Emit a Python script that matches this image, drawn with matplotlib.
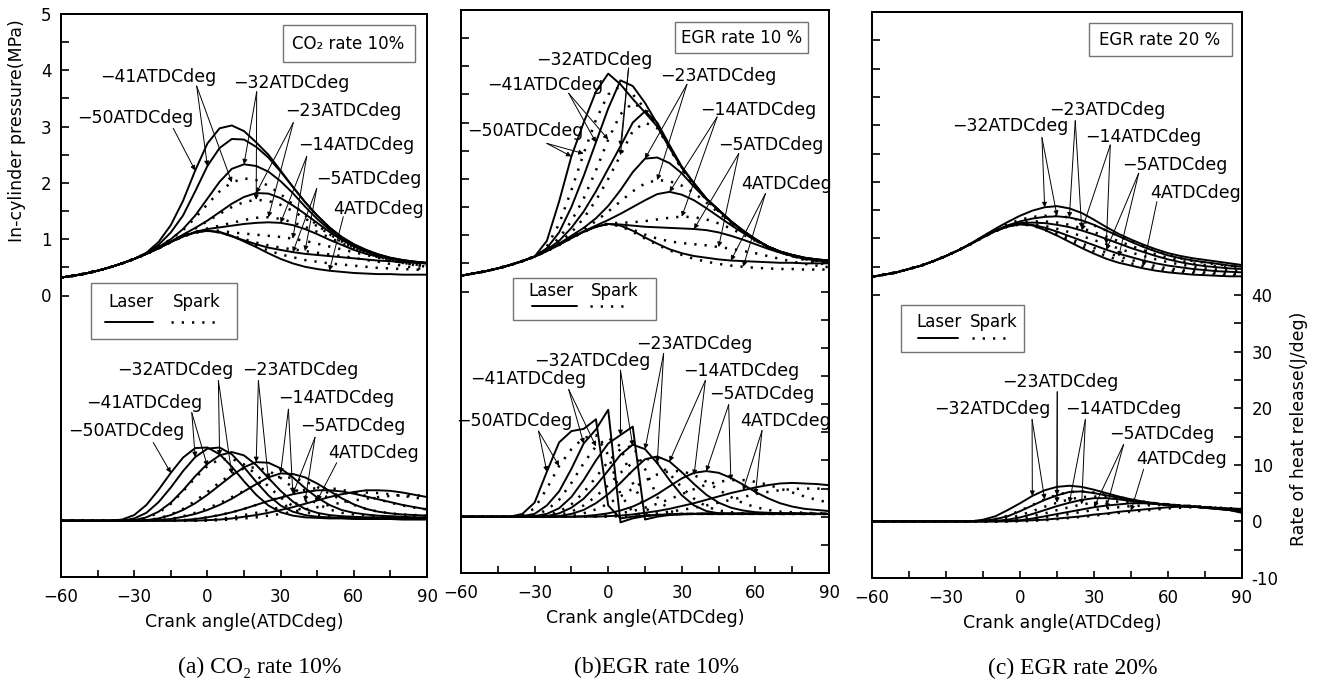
import matplotlib
matplotlib.use('Agg')
import matplotlib.pyplot as plt
from matplotlib.patches import Rectangle
from matplotlib.lines import Line2D

plt.rcParams['font.family'] = ['DejaVu Sans']
plt.rcParams['axes.linewidth'] = 1.4

crank = list(range(-60, 91, 5))

# ---------------- (a) CO2 rate 10% ----------------
a_laser_t = [-50, -41, -32, -23, -14, -5, 4]
a_spark_t = [-41, -32, -23, -14, -5, 4]
a_compression = [0.32, 0.35, 0.39, 0.44, 0.50, 0.57, 0.65]   # -60..-30 deg
# pressure from -25 deg onward
a_press_laser = [
    [0.76, 0.95, 1.25, 1.68, 2.22, 2.70, 2.97, 3.02, 2.92, 2.72, 2.50, 2.22, 1.93, 1.66, 1.42, 1.21, 1.04, 0.91, 0.81, 0.73, 0.67, 0.63, 0.60, 0.58],
    [0.75, 0.90, 1.12, 1.42, 1.85, 2.30, 2.62, 2.78, 2.77, 2.64, 2.45, 2.20, 1.93, 1.66, 1.42, 1.21, 1.04, 0.91, 0.81, 0.73, 0.67, 0.63, 0.60, 0.58],
    [0.74, 0.86, 1.00, 1.18, 1.42, 1.72, 2.02, 2.25, 2.33, 2.30, 2.20, 2.03, 1.82, 1.58, 1.36, 1.17, 1.01, 0.89, 0.80, 0.72, 0.66, 0.62, 0.59, 0.57],
    [0.74, 0.84, 0.96, 1.08, 1.20, 1.33, 1.48, 1.63, 1.75, 1.82, 1.81, 1.73, 1.60, 1.45, 1.29, 1.13, 0.99, 0.87, 0.78, 0.71, 0.66, 0.62, 0.59, 0.57],
    [0.74, 0.84, 0.95, 1.05, 1.13, 1.18, 1.21, 1.24, 1.27, 1.29, 1.30, 1.29, 1.25, 1.18, 1.09, 0.99, 0.90, 0.81, 0.74, 0.69, 0.65, 0.62, 0.60, 0.58],
    [0.74, 0.84, 0.95, 1.05, 1.12, 1.15, 1.12, 1.05, 0.98, 0.91, 0.85, 0.81, 0.77, 0.74, 0.72, 0.70, 0.68, 0.66, 0.64, 0.62, 0.61, 0.59, 0.58, 0.57],
    [0.74, 0.84, 0.95, 1.05, 1.12, 1.15, 1.13, 1.06, 0.96, 0.86, 0.75, 0.65, 0.57, 0.51, 0.47, 0.44, 0.42, 0.40, 0.39, 0.38, 0.38, 0.37, 0.37, 0.37],
]
a_press_spark = [
    [0.74, 0.86, 1.00, 1.16, 1.38, 1.62, 1.85, 2.01, 2.08, 2.05, 1.95, 1.80, 1.62, 1.43, 1.25, 1.09, 0.95, 0.84, 0.75, 0.68, 0.62, 0.58, 0.55, 0.53],
    [0.74, 0.84, 0.96, 1.07, 1.19, 1.32, 1.45, 1.57, 1.66, 1.70, 1.68, 1.61, 1.50, 1.37, 1.23, 1.09, 0.96, 0.85, 0.76, 0.69, 0.63, 0.58, 0.55, 0.52],
    [0.74, 0.84, 0.95, 1.05, 1.13, 1.19, 1.24, 1.29, 1.34, 1.38, 1.39, 1.36, 1.30, 1.22, 1.13, 1.03, 0.93, 0.84, 0.76, 0.69, 0.63, 0.58, 0.54, 0.51],
    [0.74, 0.84, 0.95, 1.05, 1.12, 1.16, 1.15, 1.12, 1.10, 1.08, 1.06, 1.04, 1.01, 0.97, 0.92, 0.87, 0.82, 0.77, 0.72, 0.67, 0.63, 0.59, 0.55, 0.51],
    [0.74, 0.84, 0.95, 1.05, 1.12, 1.15, 1.12, 1.06, 1.00, 0.94, 0.89, 0.85, 0.82, 0.79, 0.76, 0.73, 0.70, 0.67, 0.63, 0.60, 0.56, 0.53, 0.49, 0.46],
    [0.74, 0.84, 0.95, 1.05, 1.12, 1.15, 1.13, 1.06, 0.97, 0.88, 0.80, 0.73, 0.68, 0.63, 0.60, 0.57, 0.55, 0.53, 0.51, 0.49, 0.48, 0.47, 0.46, 0.45],
]
a_hr_laser = [
    [0, 0, 0, 0, 0, 0.2, 1.0, 2.8, 5.5, 8.5, 11.2, 12.9, 13.0, 11.8, 9.6, 7.0, 4.6, 2.7, 1.5, 0.9, 0.6, 0.5, 0.4, 0.4, 0.3, 0.3, 0.3, 0.3, 0.2, 0.2, 0.2],
    [0, 0, 0, 0, 0, 0, 0.4, 1.4, 3.3, 5.9, 8.8, 11.3, 12.8, 13.0, 11.8, 9.5, 6.9, 4.5, 2.7, 1.6, 1.0, 0.7, 0.6, 0.5, 0.5, 0.4, 0.4, 0.4, 0.3, 0.3, 0.3],
    [0, 0, 0, 0, 0, 0, 0.1, 0.6, 1.6, 3.2, 5.4, 7.9, 10.1, 11.6, 12.2, 11.6, 9.9, 7.6, 5.3, 3.4, 2.1, 1.4, 1.0, 0.8, 0.7, 0.6, 0.6, 0.5, 0.5, 0.4, 0.4],
    [0, 0, 0, 0, 0, 0, 0, 0.1, 0.4, 1.0, 1.9, 3.1, 4.6, 6.3, 8.0, 9.5, 10.4, 10.3, 9.3, 7.7, 5.8, 4.1, 2.8, 1.9, 1.4, 1.1, 0.9, 0.8, 0.7, 0.6, 0.6],
    [0, 0, 0, 0, 0, 0, 0, 0, 0.1, 0.3, 0.7, 1.2, 1.9, 2.8, 3.9, 5.2, 6.5, 7.7, 8.4, 8.3, 7.7, 6.6, 5.3, 4.0, 2.9, 2.1, 1.6, 1.3, 1.1, 1.0, 0.9],
    [0, 0, 0, 0, 0, 0, 0, 0, 0, 0, 0.1, 0.3, 0.6, 1.0, 1.5, 2.1, 2.8, 3.5, 4.1, 4.7, 5.1, 5.4, 5.4, 5.2, 4.8, 4.3, 3.8, 3.3, 2.8, 2.4, 2.0],
    [0, 0, 0, 0, 0, 0, 0, 0, 0, 0, 0, 0, 0.1, 0.2, 0.4, 0.7, 1.0, 1.4, 1.9, 2.4, 3.0, 3.6, 4.2, 4.7, 5.1, 5.4, 5.4, 5.3, 5.0, 4.6, 4.2],
]
a_hr_spark = [
    [0, 0, 0, 0, 0, 0, 0.1, 0.5, 1.4, 3.0, 5.2, 7.6, 9.7, 10.9, 11.0, 10.0, 8.2, 6.1, 4.1, 2.6, 1.6, 1.1, 0.8, 0.7, 0.6, 0.5, 0.5, 0.4, 0.4, 0.4, 0.3],
    [0, 0, 0, 0, 0, 0, 0, 0.1, 0.4, 1.1, 2.1, 3.5, 5.1, 6.8, 8.3, 9.3, 9.5, 8.9, 7.6, 5.9, 4.3, 3.0, 2.0, 1.4, 1.1, 0.9, 0.8, 0.7, 0.6, 0.6, 0.5],
    [0, 0, 0, 0, 0, 0, 0, 0, 0.1, 0.3, 0.8, 1.4, 2.2, 3.1, 4.2, 5.3, 6.4, 7.4, 7.8, 7.6, 7.0, 6.0, 4.8, 3.7, 2.8, 2.1, 1.6, 1.3, 1.1, 1.0, 0.9],
    [0, 0, 0, 0, 0, 0, 0, 0, 0, 0, 0.1, 0.3, 0.6, 1.0, 1.5, 2.1, 2.8, 3.5, 4.2, 4.9, 5.5, 5.8, 5.8, 5.5, 5.0, 4.4, 3.8, 3.2, 2.7, 2.3, 2.0],
    [0, 0, 0, 0, 0, 0, 0, 0, 0, 0, 0, 0, 0.1, 0.3, 0.6, 1.0, 1.4, 1.9, 2.4, 2.9, 3.4, 3.9, 4.4, 4.8, 5.0, 5.0, 4.9, 4.7, 4.4, 4.1, 3.8],
    [0, 0, 0, 0, 0, 0, 0, 0, 0, 0, 0, 0, 0, 0.1, 0.2, 0.4, 0.6, 0.9, 1.2, 1.6, 2.0, 2.4, 2.8, 3.2, 3.6, 3.9, 4.2, 4.4, 4.5, 4.5, 4.4],
]

# ---------------- (b) EGR rate 10% ----------------
b_laser_t = [-50, -41, -32, -23, -14, -5, 4]
b_spark_t = [-50, -41, -32, -23, -14, -5, 4]
b_compression = [0.28, 0.32, 0.36, 0.41, 0.47, 0.54, 0.62]
b_press_laser = [
    [0.90, 1.60, 2.40, 3.00, 3.55, 3.87, 3.68, 3.42, 3.18, 2.93, 2.55, 2.20, 1.92, 1.65, 1.45, 1.25, 1.08, 0.93, 0.80, 0.71, 0.65, 0.60, 0.57, 0.55],
    [0.77, 1.05, 1.50, 2.05, 2.65, 3.25, 3.75, 3.65, 3.35, 2.98, 2.58, 2.20, 1.92, 1.65, 1.45, 1.25, 1.08, 0.93, 0.80, 0.71, 0.65, 0.60, 0.57, 0.55],
    [0.74, 0.90, 1.13, 1.42, 1.78, 2.18, 2.58, 3.00, 3.20, 3.00, 2.60, 2.22, 1.92, 1.65, 1.45, 1.25, 1.08, 0.93, 0.80, 0.71, 0.65, 0.60, 0.57, 0.55],
    [0.73, 0.85, 0.99, 1.13, 1.30, 1.52, 1.80, 2.12, 2.36, 2.38, 2.28, 2.10, 1.86, 1.64, 1.44, 1.24, 1.07, 0.92, 0.80, 0.71, 0.64, 0.59, 0.56, 0.54],
    [0.72, 0.84, 0.96, 1.07, 1.17, 1.27, 1.38, 1.50, 1.62, 1.73, 1.77, 1.72, 1.62, 1.48, 1.33, 1.18, 1.04, 0.91, 0.80, 0.71, 0.64, 0.59, 0.56, 0.54],
    [0.72, 0.83, 0.95, 1.06, 1.15, 1.20, 1.19, 1.17, 1.15, 1.14, 1.13, 1.12, 1.11, 1.09, 1.05, 0.99, 0.92, 0.84, 0.76, 0.69, 0.63, 0.58, 0.55, 0.53],
    [0.72, 0.83, 0.95, 1.06, 1.15, 1.20, 1.17, 1.08, 0.96, 0.85, 0.75, 0.68, 0.63, 0.60, 0.57, 0.55, 0.54, 0.53, 0.52, 0.51, 0.51, 0.50, 0.50, 0.50],
]
b_press_spark = [
    [0.80, 1.20, 1.80, 2.45, 3.05, 3.50, 3.65, 3.50, 3.25, 2.95, 2.55, 2.18, 1.90, 1.63, 1.43, 1.23, 1.06, 0.91, 0.79, 0.70, 0.63, 0.58, 0.55, 0.53],
    [0.75, 0.95, 1.25, 1.65, 2.15, 2.70, 3.15, 3.35, 3.22, 2.95, 2.55, 2.18, 1.90, 1.63, 1.43, 1.23, 1.06, 0.91, 0.79, 0.70, 0.63, 0.58, 0.55, 0.53],
    [0.73, 0.87, 1.05, 1.30, 1.62, 2.00, 2.42, 2.85, 3.00, 2.90, 2.55, 2.18, 1.90, 1.63, 1.43, 1.23, 1.06, 0.91, 0.79, 0.70, 0.63, 0.58, 0.55, 0.53],
    [0.72, 0.84, 0.97, 1.10, 1.25, 1.42, 1.60, 1.78, 1.92, 1.98, 1.96, 1.88, 1.75, 1.58, 1.40, 1.22, 1.06, 0.92, 0.80, 0.70, 0.63, 0.57, 0.53, 0.50],
    [0.72, 0.83, 0.95, 1.06, 1.15, 1.21, 1.22, 1.23, 1.25, 1.28, 1.31, 1.33, 1.32, 1.28, 1.21, 1.12, 1.01, 0.90, 0.80, 0.71, 0.63, 0.56, 0.51, 0.47],
    [0.72, 0.83, 0.95, 1.06, 1.15, 1.20, 1.17, 1.10, 1.01, 0.94, 0.89, 0.86, 0.84, 0.82, 0.79, 0.76, 0.72, 0.68, 0.63, 0.58, 0.53, 0.49, 0.46, 0.43],
    [0.72, 0.83, 0.95, 1.06, 1.15, 1.20, 1.16, 1.06, 0.94, 0.83, 0.73, 0.65, 0.58, 0.53, 0.49, 0.46, 0.44, 0.42, 0.41, 0.40, 0.40, 0.39, 0.39, 0.39],
]
b_hr_laser = [
    [0, 0, 0, 0, 0, 0.5, 2.5, 8.0, 13.2, 15.2, 15.6, 17.3, 2.0, -0.3, 0.0, 0.2, 0.3, 0.4, 0.5, 0.5, 0.6, 0.6, 0.6, 0.6, 0.6, 0.6, 0.6, 0.6, 0.6, 0.5, 0.5],
    [0, 0, 0, 0, 0, 0.1, 0.5, 2.0, 4.5, 8.5, 13.0, 15.5, 19.0, -1.0, -0.3, 0.1, 0.3, 0.4, 0.5, 0.5, 0.5, 0.5, 0.5, 0.5, 0.5, 0.5, 0.5, 0.5, 0.5, 0.5, 0.5],
    [0, 0, 0, 0, 0, 0, 0.1, 0.5, 1.5, 3.5, 6.5, 10.0, 13.0, 14.5, 16.0, -0.5, 0.0, 0.3, 0.4, 0.5, 0.5, 0.5, 0.5, 0.5, 0.5, 0.5, 0.5, 0.5, 0.5, 0.5, 0.5],
    [0, 0, 0, 0, 0, 0, 0, 0.1, 0.6, 1.6, 3.2, 5.5, 8.2, 11.0, 12.8, 12.0, 9.5, 6.5, 3.8, 2.0, 1.0, 0.6, 0.5, 0.5, 0.5, 0.5, 0.5, 0.5, 0.5, 0.5, 0.5],
    [0, 0, 0, 0, 0, 0, 0, 0, 0.1, 0.5, 1.2, 2.4, 4.0, 6.0, 8.2, 10.2, 10.7, 9.8, 7.9, 5.8, 3.9, 2.5, 1.6, 1.1, 0.8, 0.7, 0.6, 0.6, 0.5, 0.5, 0.5],
    [0, 0, 0, 0, 0, 0, 0, 0, 0, 0, 0.1, 0.3, 0.6, 1.1, 1.8, 2.8, 4.0, 5.4, 6.8, 7.8, 8.1, 7.8, 6.9, 5.7, 4.4, 3.3, 2.4, 1.8, 1.4, 1.2, 1.0],
    [0, 0, 0, 0, 0, 0, 0, 0, 0, 0, 0, 0, 0.1, 0.2, 0.4, 0.7, 1.0, 1.4, 1.9, 2.4, 3.0, 3.6, 4.2, 4.7, 5.2, 5.6, 5.9, 6.0, 5.9, 5.8, 5.6],
]
b_hr_spark = [
    [0, 0, 0, 0, 0, 0.2, 1.5, 5.0, 9.0, 12.0, 14.0, 14.5, 11.0, 4.0, 0.8, 0.2, 0.3, 0.4, 0.5, 0.5, 0.5, 0.5, 0.5, 0.5, 0.5, 0.5, 0.5, 0.5, 0.5, 0.5, 0.5],
    [0, 0, 0, 0, 0, 0, 0.2, 1.2, 3.0, 6.0, 9.5, 12.5, 14.0, 12.5, 6.0, 1.5, 0.4, 0.4, 0.5, 0.5, 0.5, 0.5, 0.5, 0.5, 0.5, 0.5, 0.5, 0.5, 0.5, 0.5, 0.5],
    [0, 0, 0, 0, 0, 0, 0, 0.2, 0.9, 2.2, 4.3, 7.0, 9.8, 12.0, 12.6, 8.5, 3.5, 1.0, 0.5, 0.5, 0.5, 0.5, 0.5, 0.5, 0.5, 0.5, 0.5, 0.5, 0.5, 0.5, 0.5],
    [0, 0, 0, 0, 0, 0, 0, 0, 0.3, 0.9, 2.0, 3.6, 5.6, 7.8, 9.6, 10.4, 9.6, 7.6, 5.2, 3.2, 1.8, 1.1, 0.8, 0.6, 0.6, 0.5, 0.5, 0.5, 0.5, 0.5, 0.5],
    [0, 0, 0, 0, 0, 0, 0, 0, 0, 0.2, 0.6, 1.3, 2.3, 3.6, 5.0, 6.4, 7.5, 8.1, 8.1, 7.4, 6.2, 4.8, 3.5, 2.4, 1.7, 1.2, 0.9, 0.8, 0.7, 0.6, 0.6],
    [0, 0, 0, 0, 0, 0, 0, 0, 0, 0, 0, 0.1, 0.3, 0.6, 1.0, 1.6, 2.3, 3.1, 4.0, 4.9, 5.7, 6.2, 6.5, 6.5, 6.2, 5.7, 5.0, 4.3, 3.6, 3.0, 2.5],
    [0, 0, 0, 0, 0, 0, 0, 0, 0, 0, 0, 0, 0, 0.1, 0.2, 0.4, 0.6, 0.9, 1.2, 1.6, 2.0, 2.5, 3.0, 3.5, 4.0, 4.4, 4.7, 4.9, 5.0, 5.0, 4.9],
]

# ---------------- (c) EGR rate 20% ----------------
c_laser_t = [-32, -23, -14, -5, 4]
c_spark_t = [-32, -23, -14, -5, 4]
c_compression = [0.32, 0.36, 0.40, 0.46, 0.52, 0.60, 0.69]
c_press_laser = [
    [0.79, 0.91, 1.04, 1.17, 1.29, 1.40, 1.49, 1.55, 1.57, 1.53, 1.45, 1.33, 1.20, 1.08, 0.98, 0.89, 0.81, 0.74, 0.69, 0.65, 0.62, 0.59, 0.56, 0.53],
    [0.79, 0.90, 1.03, 1.14, 1.23, 1.30, 1.35, 1.38, 1.39, 1.37, 1.32, 1.24, 1.14, 1.04, 0.94, 0.85, 0.77, 0.70, 0.65, 0.61, 0.58, 0.55, 0.52, 0.50],
    [0.79, 0.90, 1.02, 1.13, 1.22, 1.27, 1.28, 1.27, 1.24, 1.20, 1.14, 1.07, 0.99, 0.91, 0.83, 0.76, 0.69, 0.63, 0.58, 0.54, 0.51, 0.49, 0.47, 0.46],
    [0.79, 0.90, 1.02, 1.13, 1.21, 1.25, 1.24, 1.19, 1.12, 1.04, 0.96, 0.88, 0.80, 0.73, 0.67, 0.61, 0.56, 0.52, 0.49, 0.46, 0.44, 0.42, 0.41, 0.40],
    [0.79, 0.90, 1.02, 1.13, 1.21, 1.25, 1.23, 1.15, 1.05, 0.94, 0.83, 0.73, 0.64, 0.57, 0.52, 0.47, 0.43, 0.40, 0.38, 0.36, 0.35, 0.34, 0.33, 0.33],
]
c_press_spark = [
    [0.79, 0.90, 1.03, 1.15, 1.25, 1.33, 1.38, 1.40, 1.40, 1.37, 1.31, 1.23, 1.14, 1.04, 0.95, 0.86, 0.78, 0.71, 0.65, 0.60, 0.57, 0.54, 0.52, 0.50],
    [0.79, 0.90, 1.02, 1.13, 1.22, 1.28, 1.30, 1.30, 1.28, 1.24, 1.18, 1.11, 1.03, 0.95, 0.87, 0.79, 0.72, 0.66, 0.61, 0.56, 0.53, 0.50, 0.48, 0.46],
    [0.79, 0.90, 1.02, 1.13, 1.21, 1.25, 1.25, 1.22, 1.17, 1.11, 1.04, 0.97, 0.90, 0.82, 0.75, 0.69, 0.63, 0.58, 0.54, 0.50, 0.47, 0.45, 0.43, 0.42],
    [0.79, 0.90, 1.02, 1.13, 1.21, 1.25, 1.23, 1.17, 1.09, 1.00, 0.91, 0.83, 0.75, 0.68, 0.62, 0.56, 0.51, 0.47, 0.44, 0.42, 0.40, 0.39, 0.38, 0.37],
    [0.79, 0.90, 1.02, 1.13, 1.21, 1.25, 1.23, 1.15, 1.06, 0.96, 0.86, 0.77, 0.69, 0.62, 0.56, 0.51, 0.47, 0.43, 0.41, 0.39, 0.37, 0.36, 0.35, 0.35],
]
c_hr_laser = [
    [0, 0, 0, 0, 0, 0, 0, 0, 0, 0.3, 0.9, 2.0, 3.2, 4.5, 5.5, 6.1, 6.3, 6.1, 5.6, 5.0, 4.4, 3.9, 3.5, 3.2, 2.9, 2.7, 2.6, 2.5, 2.4, 2.3, 2.2],
    [0, 0, 0, 0, 0, 0, 0, 0, 0, 0.1, 0.4, 0.9, 1.8, 2.8, 3.8, 4.6, 5.2, 5.3, 5.0, 4.6, 4.2, 3.8, 3.4, 3.1, 2.9, 2.7, 2.6, 2.4, 2.3, 2.1, 2.0],
    [0, 0, 0, 0, 0, 0, 0, 0, 0, 0, 0.1, 0.3, 0.7, 1.3, 2.0, 2.7, 3.3, 3.8, 4.1, 4.1, 3.9, 3.6, 3.3, 3.1, 2.9, 2.7, 2.6, 2.4, 2.2, 2.0, 1.8],
    [0, 0, 0, 0, 0, 0, 0, 0, 0, 0, 0, 0.1, 0.2, 0.5, 0.9, 1.3, 1.7, 2.1, 2.5, 2.8, 3.0, 3.2, 3.2, 3.1, 3.0, 2.8, 2.6, 2.4, 2.2, 2.0, 1.7],
    [0, 0, 0, 0, 0, 0, 0, 0, 0, 0, 0, 0, 0.1, 0.2, 0.3, 0.5, 0.7, 0.9, 1.2, 1.4, 1.7, 1.9, 2.1, 2.3, 2.5, 2.6, 2.6, 2.5, 2.3, 2.0, 1.5],
]
c_hr_spark = [
    [0, 0, 0, 0, 0, 0, 0, 0, 0, 0.1, 0.4, 1.0, 1.9, 2.9, 3.9, 4.7, 5.2, 5.3, 5.1, 4.7, 4.3, 3.9, 3.5, 3.2, 3.0, 2.8, 2.7, 2.5, 2.4, 2.2, 2.0],
    [0, 0, 0, 0, 0, 0, 0, 0, 0, 0, 0.2, 0.5, 1.1, 1.8, 2.6, 3.3, 3.9, 4.3, 4.4, 4.3, 4.0, 3.7, 3.4, 3.2, 3.0, 2.8, 2.7, 2.5, 2.3, 2.1, 2.0],
    [0, 0, 0, 0, 0, 0, 0, 0, 0, 0, 0, 0.2, 0.5, 0.9, 1.4, 2.0, 2.5, 3.0, 3.3, 3.5, 3.5, 3.4, 3.3, 3.1, 3.0, 2.8, 2.7, 2.5, 2.3, 2.1, 1.9],
    [0, 0, 0, 0, 0, 0, 0, 0, 0, 0, 0, 0, 0.2, 0.4, 0.7, 1.0, 1.3, 1.7, 2.0, 2.3, 2.5, 2.7, 2.8, 2.9, 2.9, 2.8, 2.7, 2.6, 2.4, 2.3, 2.1],
    [0, 0, 0, 0, 0, 0, 0, 0, 0, 0, 0, 0, 0, 0.1, 0.2, 0.4, 0.6, 0.8, 1.0, 1.3, 1.5, 1.7, 1.9, 2.1, 2.3, 2.4, 2.5, 2.5, 2.4, 2.3, 2.2],
]

M = '\u2212'
# label text, text centre, arrow origin, arrow targets (ignition, timing, crank angle)
a_notes_p = [
    (M + '50ATDCdeg', (-29.7, 3.16), (-14, 2.97), [('L', -50, -5)]),
    (M + '41ATDCdeg', (-20.2, 3.88), (-4.4, 3.72), [('L', -41, 0), ('S', -41, 10)]),
    (M + '32ATDCdeg', (34.5, 3.78), (20.2, 3.62), [('L', -32, 15), ('S', -32, 20)]),
    (M + '23ATDCdeg', (55.7, 3.27), (35.2, 3.07), [('L', -23, 20), ('S', -23, 25)]),
    (M + '14ATDCdeg', (61.2, 2.68), (40.7, 2.47), [('L', -14, 30), ('S', -14, 35)]),
    (M + '5ATDCdeg', (66.2, 2.07), (44.8, 1.90), [('L', -5, 35), ('S', -5, 40)]),
    ('4ATDCdeg', (70.3, 1.54), (55.7, 1.40), [('L', 4, 50)]),
]
a_notes_h = [
    (M + '32ATDCdeg', (-13.3, 26.8), (4.5, 24.9), [('L', -32, 5), ('S', -32, 10)]),
    (M + '23ATDCdeg', (37.9, 26.8), (20.9, 24.9), [('L', -23, 20), ('S', -23, 25)]),
    (M + '41ATDCdeg', (-26.0, 20.9), (-6.4, 19.2), [('L', -41, -5), ('S', -41, 0)]),
    (M + '14ATDCdeg', (53.0, 21.8), (33.2, 19.8), [('L', -14, 30), ('S', -14, 35)]),
    (M + '50ATDCdeg', (-33.1, 15.9), (-22.2, 13.9), [('L', -50, -15)]),
    (M + '5ATDCdeg', (59.5, 16.8), (44.1, 14.8), [('L', -5, 35), ('S', -5, 40)]),
    ('4ATDCdeg', (68.0, 12.1), (53.0, 10.3), [('L', 4, 45)]),
]
b_notes_p = [
    (M + '32ATDCdeg', (-5.7, 4.11), (8.3, 3.97), [('L', -32, 5), ('S', -32, 5)]),
    (M + '41ATDCdeg', (-25.6, 3.66), (-16.1, 3.52), [('L', -41, -5), ('S', -41, 0)]),
    (M + '23ATDCdeg', (45.0, 3.82), (32.1, 3.68), [('L', -23, 15), ('S', -23, 20)]),
    (M + '50ATDCdeg', (-33.8, 2.85), (-25.0, 2.63), [('L', -50, -15), ('S', -50, -10)]),
    (M + '14ATDCdeg', (61.3, 3.23), (44.4, 3.10), [('L', -14, 25), ('S', -14, 30)]),
    (M + '5ATDCdeg', (66.1, 2.61), (53.2, 2.45), [('L', -5, 35), ('S', -5, 45)]),
    ('4ATDCdeg', (72.6, 1.91), (64.1, 1.74), [('L', 4, 50), ('S', 4, 55)]),
]
b_notes_h = [
    (M + '23ATDCdeg', (35.1, 30.6), (22.6, 29.0), [('L', -23, 15), ('S', -23, 20)]),
    (M + '32ATDCdeg', (-6.6, 27.6), (5.0, 26.0), [('L', -32, 5), ('S', -32, 10)]),
    (M + '14ATDCdeg', (54.3, 25.8), (39.6, 24.2), [('L', -14, 25), ('S', -14, 35)]),
    (M + '41ATDCdeg', (-32.4, 24.4), (-16.1, 22.6), [('L', -41, -10), ('S', -41, -5)]),
    (M + '5ATDCdeg', (62.8, 21.8), (49.1, 19.9), [('L', -5, 40), ('S', -5, 50)]),
    (M + '50ATDCdeg', (-38.3, 17.0), (-28.4, 15.2), [('L', -50, -25), ('S', -50, -20)]),
    ('4ATDCdeg', (72.1, 17.0), (62.7, 15.3), [('L', 4, 55), ('S', 4, 60)]),
]
c_notes_p = [
    (M + '23ATDCdeg', (35.3, 3.27), (22.4, 3.08), [('L', -23, 20), ('S', -23, 25)]),
    (M + '32ATDCdeg', (-3.9, 2.98), (8.9, 2.78), [('L', -32, 10), ('S', -32, 15)]),
    (M + '14ATDCdeg', (50.1, 2.80), (36.6, 2.65), [('L', -14, 25), ('S', -14, 35)]),
    (M + '5ATDCdeg', (62.6, 2.30), (48.1, 2.15), [('L', -5, 35), ('S', -5, 40)]),
    ('4ATDCdeg', (71.1, 1.80), (55.5, 1.65), [('S', 4, 50)]),
]
c_notes_h = [
    (M + '23ATDCdeg', (16.3, 24.6), (15.1, 22.9), [('L', -23, 15), ('S', -23, 15)]),
    (M + '32ATDCdeg', (-11.2, 19.8), (4.9, 18.0), [('L', -32, 5), ('S', -32, 10)]),
    (M + '14ATDCdeg', (42.0, 19.8), (26.5, 18.0), [('L', -14, 20), ('S', -14, 25)]),
    (M + '5ATDCdeg', (57.6, 15.4), (42.0, 13.6), [('L', -5, 30), ('S', -5, 35)]),
    ('4ATDCdeg', (65.7, 11.0), (50.1, 9.2), [('L', 4, 45)]),
]

W, H = 1317, 684
fig = plt.figure(figsize=(W / 100, H / 100), dpi=100)

SOLID = dict(color='k', lw=1.4, solid_capstyle='round')
DOTTED = dict(color='k', lw=1.8, ls=(0, (0.9, 3.2)))
ARROW = dict(arrowstyle='-|>', color='k', lw=0.7, mutation_scale=7, shrinkA=0, shrinkB=0)
FS = 12.5


def px_rect(x0, y0, x1, y1):
    return [x0 / W, 1 - y1 / H, (x1 - x0) / W, (y1 - y0) / H]


def draw_notes(axis, notes, laser, laser_t, spark, spark_t):
    for text, tpos, start, targets in notes:
        axis.text(tpos[0], tpos[1], text, fontsize=FS, ha='center', va='center')
        for kind, t, ang in targets:
            series = laser[laser_t.index(t)] if kind == 'L' else spark[spark_t.index(t)]
            axis.annotate('', xy=(ang, series[crank.index(ang)]), xytext=start,
                          arrowprops=ARROW)


def panel(box, comp, p_laser, p_spark, h_laser, h_spark, laser_t, spark_t,
          notes_p, notes_h, tag, tag_box, tag_xy, leg, left_labels, right_ticks):
    ax = fig.add_axes(px_rect(*box))
    ax.set_xlim(-60, 90)
    ax.set_ylim(-5, 5)
    hx = ax.twinx()
    hx.set_ylim(-10, 90)

    pl = [comp + v for v in p_laser]
    ps = [comp + v for v in p_spark]
    for v in ps:
        ax.plot(crank, v, **DOTTED)
    for v in pl:
        ax.plot(crank, v, **SOLID)
    for v in h_spark:
        hx.plot(crank, v, **DOTTED)
    for v in h_laser:
        hx.plot(crank, v, **SOLID)

    draw_notes(ax, notes_p, pl, laser_t, ps, spark_t)
    draw_notes(hx, notes_h, h_laser, laser_t, h_spark, spark_t)

    # x axis
    ax.set_xticks([-60, -30, 0, 30, 60, 90])
    ax.set_xticks([-45, -15, 15, 45, 75], minor=True)
    ax.tick_params(axis='x', which='both', direction='in', length=5, width=1.2,
                   labelsize=12, pad=8)
    # pressure axis
    ax.set_yticks([0, 1, 2, 3, 4, 5])
    ax.set_yticks([0.5, 1.5, 2.5, 3.5, 4.5], minor=True)
    ax.tick_params(axis='y', which='both', direction='in', length=6, width=1.2,
                   labelsize=12, pad=7, labelleft=left_labels)
    # heat release axis
    if right_ticks is None:
        hx.set_yticks([])
    else:
        hx.set_yticks(list(range(-10, 41, 5)))
        if right_ticks:
            hx.set_yticklabels([str(v) if v % 10 == 0 else '' for v in range(-10, 41, 5)])
        else:
            hx.set_yticklabels([])
        hx.tick_params(axis='y', direction='in', length=6, width=1.2, labelsize=12, pad=7)
    for s in hx.spines.values():
        s.set_linewidth(1.4)

    # condition box
    ax.add_patch(Rectangle((tag_box[0], tag_box[1]), tag_box[2] - tag_box[0],
                           tag_box[3] - tag_box[1], transform=ax.transAxes,
                           fc='white', ec='0.45', lw=1.0, zorder=5))
    ax.text(tag_xy[0], tag_xy[1], tag, transform=ax.transAxes, fontsize=12,
            ha='center', va='center', zorder=6)

    # legend box
    bx0, by0, bx1, by1, tx_l, tx_s, ty, ly, l0, l1, d0, d1 = leg
    ax.add_patch(Rectangle((bx0, by0), bx1 - bx0, by1 - by0, transform=ax.transAxes,
                           fc='white', ec='0.45', lw=1.0, zorder=5))
    ax.text(tx_l, ty, 'Laser', transform=ax.transAxes, fontsize=12, ha='center',
            va='center', zorder=6)
    ax.text(tx_s, ty, 'Spark', transform=ax.transAxes, fontsize=12, ha='center',
            va='center', zorder=6)
    ax.add_line(Line2D([l0, l1], [ly, ly], transform=ax.transAxes, zorder=6, **SOLID))
    ax.add_line(Line2D([d0, d1], [ly, ly], transform=ax.transAxes, zorder=6, **DOTTED))
    return ax


panel((61, 14, 427, 577), a_compression, a_press_laser, a_press_spark, a_hr_laser,
      a_hr_spark, a_laser_t, a_spark_t, a_notes_p, a_notes_h,
      'CO\u2082 rate 10%', (0.607, 0.915, 0.967, 0.980), (0.784, 0.947),
      (0.082, 0.423, 0.481, 0.522, 0.190, 0.372, 0.488, 0.453, 0.120, 0.251, 0.300, 0.429),
      True, None)
panel((461, 10, 829, 573), b_compression, b_press_laser, b_press_spark, b_hr_laser,
      b_hr_spark, b_laser_t, b_spark_t, b_notes_p, b_notes_h,
      'EGR rate 10 %', (0.582, 0.923, 0.944, 0.979), (0.763, 0.951),
      (0.140, 0.449, 0.530, 0.524, 0.244, 0.418, 0.500, 0.475, 0.192, 0.314, 0.351, 0.454),
      False, False)
panel((872, 12, 1242, 578), c_compression, c_press_laser, c_press_spark, c_hr_laser,
      c_hr_spark, c_laser_t, c_spark_t, c_notes_p, c_notes_h,
      'EGR rate 20 %', (0.587, 0.922, 0.972, 0.980), (0.778, 0.951),
      (0.078, 0.400, 0.412, 0.482, 0.181, 0.330, 0.453, 0.424, 0.125, 0.233, 0.269, 0.373),
      False, True)

# axis titles and captions
for cx, cy in [(244, 622), (645, 618), (1062, 623)]:
    fig.text(cx / W, 1 - cy / H, 'Crank angle(ATDCdeg)', fontsize=12.5,
             ha='center', va='center')
fig.text(17 / W, 1 - 131 / H, 'In-cylinder pressure(MPa)', rotation=90,
         fontsize=12.5, ha='center', va='center')
fig.text(1299 / W, 1 - 429 / H, 'Rate of heat release(J/deg)', rotation=90,
         fontsize=12.5, ha='center', va='center')
serif = ['Liberation Serif', 'DejaVu Serif']
for cx, cy, cap in [(260, 667, '(a) CO\u2082 rate 10%'), (657, 667, '(b)EGR rate 10%'),
                    (1073, 668, '(c) EGR rate 20%')]:
    fig.text(cx / W, 1 - cy / H, cap, fontsize=17, family=serif, ha='center', va='center')

fig.savefig('out.png', dpi=100)
